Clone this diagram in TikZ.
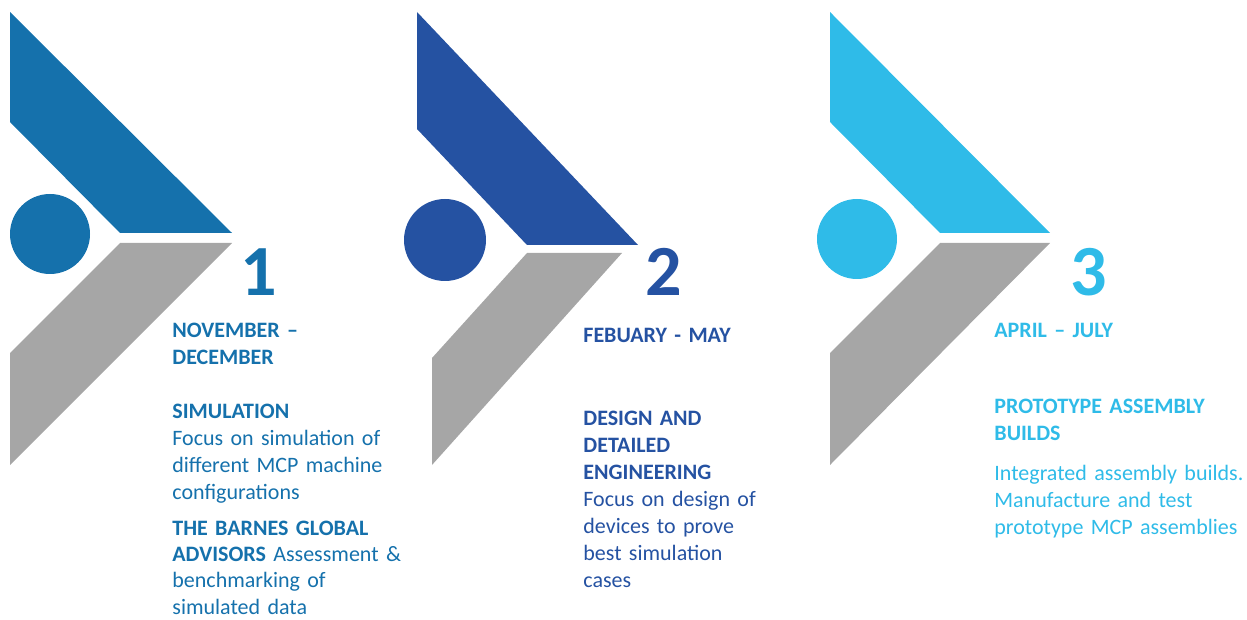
\documentclass[tikz,border=0pt]{standalone}
\usepackage{fontspec}
\setmainfont{Carlito}
\usepackage{tikz}
\definecolor{phaseA}{RGB}{21,113,172}
\definecolor{phaseB}{RGB}{37,82,162}
\definecolor{phaseC}{RGB}{47,187,232}
\definecolor{wing}{RGB}{166,166,166}
\tikzset{
  phasenum/.style={anchor=base west,inner sep=0pt,font=\fontsize{36}{36}\selectfont\bfseries},
  phasetxt/.style={anchor=base west,inner sep=0pt,text width=130pt,align=left,font=\fontsize{11}{13.5}\selectfont},
}
\begin{document}
\begin{tikzpicture}[x=0.5pt,y=-0.5pt]
      \useasboundingbox(0,0)rectangle(1247,620);
      % phase 1
      \fill[phaseA](10,12)--(232,233)--(120,233)--(10,122)--cycle;
      \fill[wing](120,243)--(232,243)--(10,465)--(10,353)--cycle;
      \fill[phaseA](50,234)circle[radius=40];
      \node[phasenum,text=phaseA](num1)at(240,295){1};
      \node[phasetxt,text=phaseA](date1)at(172,337){\textbf{NOVEMBER –}\\\textbf{DECEMBER}};
      \node[phasetxt,text=phaseA](task1)at(172,418){\textbf{SIMULATION}\\Focus on simulation of\\different MCP machine\\configurations};
      \node[phasetxt,text=phaseA,font=\fontsize{11}{13.2}\selectfont](note1)at(172,535){\textbf{THE BARNES GLOBAL}\\\textbf{ADVISORS} Assessment \&\\benchmarking of\\simulated data};
      % phase 2
      \fill[phaseB](417,12)--(638,245)--(527,245)--(417,129)--cycle;
      \fill[wing](527,253)--(622,253)--(432,465)--(432,358)--cycle;
      \fill[phaseB](445,240)circle[radius=41];
      \node[phasenum,text=phaseB](num2)at(645,295){2};
      \node[phasetxt,text=phaseB](date2)at(583,343){\textbf{FEBUARY - MAY}};
      \node[phasetxt,text=phaseB](task2)at(583,425){\textbf{DESIGN AND}\\\textbf{DETAILED}\\\textbf{ENGINEERING}\\Focus on design of\\devices to prove\\best simulation\\cases};
      % phase 3
      \fill[phaseC](830,12)--(1050,233)--(940,233)--(830,122)--cycle;
      \fill[wing](940,243)--(1050,243)--(830,465)--(830,353)--cycle;
      \fill[phaseC](857,239)circle[radius=40];
      \node[phasenum,text=phaseC](num3)at(1070,295){3};
      \node[phasetxt,text=phaseC](date3)at(994,337){\textbf{APRIL – JULY}};
      \node[phasetxt,text=phaseC](task3)at(994,413){\textbf{PROTOTYPE ASSEMBLY}\\\textbf{BUILDS}};
      \node[phasetxt,text=phaseC](note3)at(994,480){Integrated assembly builds.\\Manufacture and test\\prototype MCP assemblies};
\end{tikzpicture}
\end{document}
